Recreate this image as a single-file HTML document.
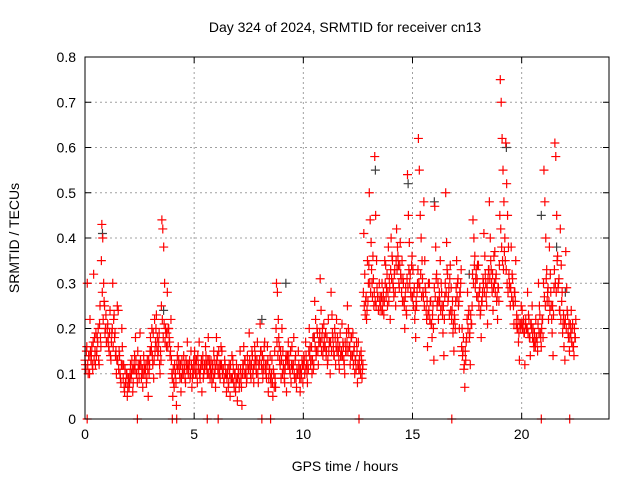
<!DOCTYPE html>
<html><head><meta charset="utf-8"><style>
html,body{margin:0;padding:0;background:#fff;}
svg{display:block;font-family:"Liberation Sans",sans-serif;}
</style></head><body>
<svg id="chart" width="640" height="480" viewBox="0 0 640 480">
<rect x="0" y="0" width="640" height="480" fill="#fff"/>
<text x="345" y="32" font-size="14" text-anchor="middle" fill="#000">Day 324 of 2024, SRMTID for receiver cn13</text>
<text x="345" y="471" font-size="14" text-anchor="middle" fill="#000">GPS time / hours</text>
<text transform="translate(19,238) rotate(-90)" font-size="14" text-anchor="middle" fill="#000">SRMTID / TECUs</text>
<g id="grid"></g>
<g id="ticks"></g>
<g id="points"></g>
<rect x="85" y="57" width="524" height="362" fill="none" stroke="#000" stroke-width="1"/>
</svg>
<script>
const xTicks=[0,5,10,15,20];
const yTicks=[0,0.1,0.2,0.3,0.4,0.5,0.6,0.7,0.8];
const yTickLabels=["0","0.1","0.2","0.3","0.4","0.5","0.6","0.7","0.8"];
const binHours=0.25;
const binValues=[
[.12,.15,.30,.10,.14,.22],[.13,.16,.11,.32,.18,.12],[.14,.18,.20,.12,.25,.16],[.43,.40,.30,.25,.20,.17],
[.20,.18,.15,.24,.13,.19],[.30,.22,.18,.14,.10,.25],[.24,.15,.10,.08,.20,.12],[.12,.06,.08,.10,.05,.09],
[.07,.10,.09,.13,.06,.11],[.14,.18,.10,.08,.12,.09],[.19,.12,.10,.07,.14,.11],[.11,.08,.13,.05,.10,.15],
[.15,.20,.12,.09,.22,.17],[.23,.18,.15,.19,.10,.13],[.44,.42,.38,.30,.20,.16],[.28,.20,.18,.14,.22,.10],
[.05,.08,.12,.10,.03,.14],[.16,.12,.09,.06,.13,.10],[.14,.11,.08,.12,.17,.10],[.12,.09,.15,.07,.11,.13],
[.15,.10,.13,.08,.12,.17],[.09,.12,.06,.14,.10,.11],[.16,.12,.10,.18,.13,.09],[.13,.08,.11,.15,.10,.07],
[.18,.14,.10,.12,.09,.16],[.15,.11,.08,.13,.10,.06],[.10,.07,.12,.05,.09,.14],[.13,.08,.10,.06,.12,.04],
[.11,.07,.15,.09,.03,.12],[.16,.13,.10,.08,.14,.11],[.19,.12,.09,.15,.10,.08],[.16,.13,.10,.17,.08,.12],
[.21,.15,.11,.09,.13,.17],[.12,.09,.16,.06,.11,.14],[.08,.13,.05,.10,.15,.07],[.30,.28,.22,.16,.12,.09],
[.20,.15,.11,.08,.13,.06],[.14,.17,.12,.10,.08,.16],[.12,.18,.09,.14,.07,.10],[.15,.11,.06,.09,.13,.08],
[.14,.10,.17,.12,.08,.11],[.20,.16,.13,.10,.18,.12],[.26,.22,.15,.19,.12,.17],[.31,.24,.18,.14,.21,.16],
[.19,.15,.12,.22,.17,.10],[.28,.23,.18,.14,.20,.12],[.22,.18,.15,.11,.19,.14],[.21,.17,.13,.10,.15,.19],
[.25,.20,.16,.12,.18,.14],[.19,.15,.10,.13,.17,.08],[.17,.13,.11,.15,.09,.12],[.41,.32,.26,.22,.35,.30],
[.50,.44,.39,.30,.36,.25],[.58,.45,.35,.27,.24,.30],[.27,.24,.30,.26,.23,.35],[.34,.29,.25,.38,.31,.22],
[.40,.36,.30,.27,.33,.25],[.42,.38,.34,.29,.39,.31],[.35,.31,.26,.20,.29,.23],[.54,.45,.39,.32,.27,.36],
[.33,.28,.22,.18,.25,.30],[.62,.55,.45,.40,.35,.28],[.48,.35,.28,.22,.16,.30],[.30,.26,.21,.18,.25,.13],
[.47,.38,.32,.26,.22,.28],[.35,.30,.25,.19,.14,.27],[.50,.39,.32,.27,.23,.34],[.29,.24,.19,.15,.22,.26],
[.35,.30,.25,.20,.28,.33],[.20,.15,.11,.07,.13,.18],[.28,.23,.18,.12,.21,.25],[.44,.40,.36,.31,.27,.34],
[.34,.28,.23,.18,.26,.31],[.41,.36,.30,.25,.21,.33],[.48,.40,.33,.28,.24,.36],[.37,.31,.26,.22,.29,.34],
[.75,.70,.62,.55,.48,.40],[.61,.52,.45,.38,.30,.25],[.38,.32,.26,.21,.28,.35],[.23,.20,.17,.13,.21,.25],
[.24,.21,.19,.12,.22,.20],[.28,.23,.18,.14,.21,.25],[.20,.16,.17,.22,.18,.15],[.30,.25,.19,.16,.22,.18],
[.55,.48,.40,.33,.28,.22],[.38,.32,.25,.19,.14,.29],[.61,.58,.45,.36,.30,.24],[.42,.34,.28,.21,.16,.13],
[.37,.29,.23,.18,.15,.21],[.24,.20,.16,.14,.18,.22]
];
const binValues2=[
[.13,.11,.16,.12,.14,.10],[.15,.14,.12,.17,.13,.15],[.19,.15,.17,.13,.21,.18],[.35,.28,.22,.26,.19,.23],
[.17,.21,.16,.19,.14,.17],[.20,.16,.23,.19,.15,.13],[.13,.11,.14,.09,.12,.16],[.09,.07,.11,.08,.10,.07],
[.09,.08,.12,.10,.11,.08],[.12,.11,.13,.10,.15,.11],[.12,.13,.09,.11,.10,.12],[.10,.12,.09,.11,.13,.12],
[.18,.16,.14,.19,.13,.15],[.20,.16,.14,.17,.12,.15],[.25,.22,.18,.21,.17,.19],[.19,.16,.20,.17,.15,.13],
[.09,.11,.07,.10,.08,.12],[.11,.13,.10,.12,.09,.11],[.10,.12,.09,.13,.11,.12],[.11,.13,.10,.12,.09,.10],
[.11,.13,.12,.10,.14,.11],[.10,.11,.13,.12,.09,.12],[.12,.14,.11,.13,.10,.12],[.11,.10,.12,.09,.13,.11],
[.12,.13,.11,.15,.10,.12],[.12,.10,.11,.09,.12,.10],[.09,.11,.08,.10,.12,.09],[.09,.11,.07,.10,.08,.09],
[.09,.10,.08,.11,.07,.10],[.12,.10,.13,.11,.09,.12],[.11,.13,.10,.12,.14,.11],[.12,.14,.11,.13,.10,.12],
[.13,.15,.12,.14,.11,.16],[.11,.10,.12,.13,.09,.11],[.09,.10,.08,.11,.07,.09],[.20,.17,.14,.18,.13,.15],
[.13,.10,.12,.09,.11,.14],[.13,.12,.14,.11,.15,.12],[.11,.12,.10,.13,.09,.11],[.10,.12,.09,.11,.10,.12],
[.12,.13,.11,.14,.10,.12],[.15,.14,.12,.16,.13,.11],[.18,.16,.14,.20,.15,.17],[.19,.17,.15,.20,.16,.18],
[.16,.14,.18,.13,.15,.17],[.17,.15,.19,.16,.14,.18],[.16,.15,.17,.13,.16,.14],[.15,.14,.16,.12,.17,.15],
[.17,.15,.19,.16,.14,.18],[.14,.12,.16,.13,.11,.15],[.12,.11,.14,.10,.13,.11],[.28,.25,.23,.27,.24,.26],
[.34,.30,.28,.33,.27,.31],[.28,.26,.25,.29,.27,.24],[.26,.25,.27,.24,.28,.26],[.30,.27,.32,.28,.26,.29],
[.33,.31,.35,.29,.32,.28],[.35,.33,.36,.30,.34,.32],[.28,.26,.30,.25,.27,.24],[.31,.29,.33,.30,.28,.34],
[.27,.25,.29,.24,.26,.28],[.33,.30,.29,.32,.27,.31],[.27,.25,.29,.24,.26,.23],[.24,.22,.26,.21,.23,.20],
[.29,.27,.31,.25,.30,.26],[.26,.24,.28,.23,.25,.22],[.30,.28,.33,.26,.29,.31],[.24,.22,.26,.21,.23,.20],
[.29,.27,.31,.26,.28,.30],[.16,.14,.18,.12,.15,.17],[.22,.20,.24,.19,.23,.21],[.32,.30,.34,.29,.33,.31],
[.27,.25,.29,.24,.26,.28],[.30,.28,.32,.27,.29,.31],[.33,.31,.35,.30,.32,.29],[.30,.28,.32,.27,.29,.26],
[.45,.42,.38,.35,.33,.37],[.35,.33,.30,.28,.32,.29],[.29,.27,.31,.25,.28,.26],[.21,.20,.22,.19,.21,.20],
[.21,.20,.22,.19,.21,.20],[.20,.19,.22,.18,.21,.20],[.18,.17,.19,.16,.18,.17],[.21,.19,.23,.18,.20,.22],
[.30,.27,.25,.31,.26,.29],[.26,.24,.28,.22,.25,.23],[.33,.30,.28,.35,.29,.31],[.24,.22,.26,.19,.23,.21],
[.22,.20,.24,.19,.21,.18],[.19,.17,.21,.16,.20,.18]
];
const darkTimes=[0.8,3.6,8.1,9.2,10.5,13.3,14.8,16.0,17.6,19.3,20.9,21.6,22.0];
const darkValues=[0.41,0.24,0.22,0.30,0.18,0.55,0.52,0.48,0.32,0.60,0.45,0.38,0.28];
const zeroTimes=[0.1,2.4,4.0,4.2,5.6,6.1,8.1,8.5,12.55,16.8,20.9,22.2];
const zeroValues=[0,0,0,0,0,0,0,0,0,0,0,0];

const X0=85,X1=609,Y0=419,Y1=57,XMAX=24,YMAX=0.8;
const xs=t=>X0+(X1-X0)*t/XMAX;
const ys=v=>Y0-(Y0-Y1)*v/YMAX;
const NS="http://www.w3.org/2000/svg";
const grid=document.getElementById('grid'),ticks=document.getElementById('ticks'),pts=document.getElementById('points');
function mk(tag,attrs,parent){const e=document.createElementNS(NS,tag);for(const k in attrs)e.setAttribute(k,attrs[k]);parent.appendChild(e);return e;}
yTicks.forEach((v,i)=>{
  const y=ys(v);
  if(i>0&&i<yTicks.length-1){const g=mk('line',{x1:X0,x2:X1,y1:y,y2:y,stroke:'#a0a0a0','stroke-dasharray':'2,3'},grid);
  
  }
  mk('line',{x1:X0,x2:X0+6,y1:y,y2:y,stroke:'#000'},ticks);
  mk('line',{x1:X1,x2:X1-6,y1:y,y2:y,stroke:'#000'},ticks);
  const t=mk('text',{x:X0-9,y:y+5,'font-size':14,'text-anchor':'end',fill:'#000'},ticks);
  t.textContent=yTickLabels[i];
  
  
});
xTicks.forEach(v=>{
  const x=xs(v);
  if(v>0){const g=mk('line',{x1:x,x2:x,y1:Y0,y2:Y1,stroke:'#a0a0a0','stroke-dasharray':'2,3'},grid);
  
  }
  mk('line',{x1:x,x2:x,y1:Y0,y2:Y0-6,stroke:'#000'},ticks);
  mk('line',{x1:x,x2:x,y1:Y1,y2:Y1+6,stroke:'#000'},ticks);
  const t=mk('text',{x:x,y:Y0+20,'font-size':14,'text-anchor':'middle',fill:'#000'},ticks);
  t.textContent=String(v);
  
  
});
function plus(t,v,color,name){
  const x=xs(t),y=ys(v);
  const p=mk('path',{d:`M${x-4.5},${y}h9M${x},${y-4.5}v9`,stroke:color,'stroke-width':1.2,fill:'none'},pts);
  
  
}
darkTimes.forEach((t,i)=>plus(t,darkValues[i],'#404040','dark-point'));
function drawBins(arr,offset){
  arr.forEach((vals,b)=>{
    vals.forEach((v,j)=>{
      const t=b*binHours+(j+offset)*binHours/vals.length;
      plus(t,v,'#ff0000','red-point');
    });
  });
}
drawBins(binValues,0.5);
drawBins(binValues2,0.0);
zeroTimes.forEach((t,i)=>plus(t,zeroValues[i],'#ff0000','zero-point'));
</script>
</body></html>
